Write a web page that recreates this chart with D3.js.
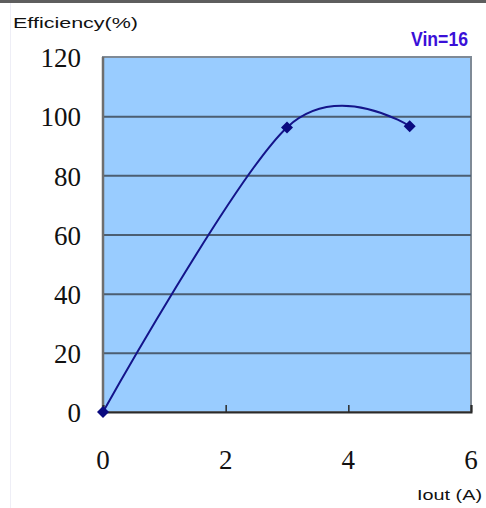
<!DOCTYPE html>
<html><head><meta charset="utf-8">
<script src="https://cdn.jsdelivr.net/npm/d3@7"></script>
<style>html,body{margin:0;padding:0;background:#fff;overflow:hidden}</style>
</head><body>
<svg id="c" width="486" height="508"></svg>
<script>
const iout = [0, 3, 5];
const efficiency = [0, 96.2, 96.6];
const yTicks = [0, 20, 40, 60, 80, 100, 120];
const xTicks = [0, 2, 4, 6];
const yTitle = "Efficiency(%)";
const xTitle = "Iout (A)";
const seriesLabel = "Vin=16";

const svg = d3.select("#c");
const L = 103, R = 471, T = 57, B = 412;
const x = d3.scaleLinear().domain([0, 6]).range([L, R]);
const y = d3.scaleLinear().domain([0, 120]).range([B, T]);

// frame decorations
svg.append("rect").attr("x",0).attr("y",0).attr("width",486).attr("height",3).attr("fill","#5e5e5e");
svg.append("line").attr("x1",10.5).attr("x2",10.5).attr("y1",3).attr("y2",508).attr("stroke","#eeeef6").attr("stroke-width",1);

// plot background
svg.append("rect").attr("x",L).attr("y",T).attr("width",R-L).attr("height",B-T)
  .attr("fill","#99ccff").attr("stroke","#7f8a96").attr("stroke-width",2);

// gridlines
const yAxis = d3.axisLeft(y).tickValues(yTicks).tickSize(-(R-L)).tickFormat("");
const gy = svg.append("g").attr("transform",`translate(${L},0)`).call(yAxis);
gy.select(".domain").remove();
gy.selectAll(".tick line").filter(d=>d!==0 && d!==120).attr("stroke","#4b5e72").attr("stroke-width",2);
gy.selectAll(".tick line").filter(d=>d===0 || d===120).remove();

// left border
svg.append("line").attr("x1",L).attr("x2",L).attr("y1",T).attr("y2",B).attr("stroke","#6e6e6e").attr("stroke-width",2.5);

// x axis
const xAxis = d3.axisBottom(x).tickValues(xTicks).tickSize(-7).tickFormat("");
const gx = svg.append("g").attr("transform",`translate(0,${B})`).call(xAxis);
gx.select(".domain").attr("stroke","#2a2a2a").attr("stroke-width",2);
gx.selectAll(".tick line").attr("stroke","#2a2a2a").attr("stroke-width",1.5);

// y tick labels
svg.append("g").selectAll("text").data(yTicks).join("text")
  .attr("x", 81).attr("y", d => y(d) + 4)
  .attr("text-anchor","end").attr("dominant-baseline","middle")
  .attr("font-family","'Liberation Serif','Times New Roman',serif").attr("font-size",27)
  .attr("fill","#111").text(d=>d);

// x tick labels
svg.append("g").selectAll("text").data(xTicks).join("text")
  .attr("x", d => x(d)).attr("y", B + 51)
  .attr("text-anchor","middle").attr("dominant-baseline","middle")
  .attr("font-family","'Liberation Serif','Times New Roman',serif").attr("font-size",27)
  .attr("fill","#111").text(d=>d);

// line
const pts = iout.map((v,i)=>[v, efficiency[i]]);
svg.append("path").datum(pts)
  .attr("d", d3.line().x(d=>x(d[0])).y(d=>y(d[1])).curve(d3.curveCardinal.tension(0)))
  .attr("fill","none").attr("stroke","#14148a").attr("stroke-width",2);

// markers (rotated squares)
svg.append("g").selectAll("path").data(pts).join("path")
  .attr("transform", d=>`translate(${x(d[0])},${y(d[1])}) rotate(45)`)
  .attr("d", d3.symbol().type(d3.symbolSquare).size(72))
  .attr("fill","#0a0a80");

// titles
svg.append("text").attr("x",13).attr("y",28)
  .attr("font-family","'Liberation Sans',Arial,sans-serif").attr("font-size",15)
  .attr("textLength",125).attr("lengthAdjust","spacingAndGlyphs")
  .attr("fill","#111").text(yTitle);
svg.append("text").attr("x",411).attr("y",46)
  .attr("font-family","'Liberation Sans',Arial,sans-serif").attr("font-size",21).attr("font-weight","bold")
  .attr("textLength",57).attr("lengthAdjust","spacingAndGlyphs")
  .attr("fill","#3a10d8").text(seriesLabel);
svg.append("text").attr("x",417).attr("y",500)
  .attr("font-family","'Liberation Sans',Arial,sans-serif").attr("font-size",15)
  .attr("textLength",65).attr("lengthAdjust","spacingAndGlyphs")
  .attr("fill","#111").text(xTitle);
</script>
</body></html>
